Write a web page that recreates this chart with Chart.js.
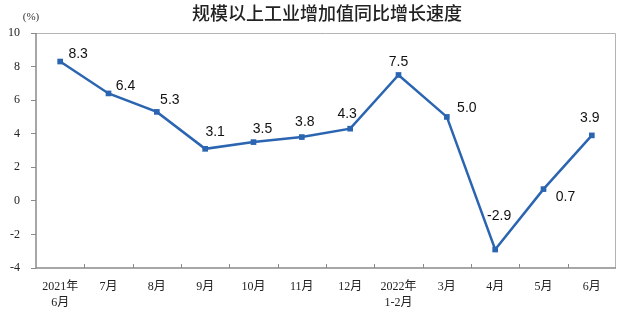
<!DOCTYPE html>
<html>
<head>
<meta charset="utf-8">
<script src="https://cdn.jsdelivr.net/npm/chart.js@4.4.0/dist/chart.umd.min.js"></script>
<style>
  html, body { margin: 0; padding: 0; background: #fff; }
  #wrap { width: 640px; height: 313px; }
</style>
</head>
<body>
<div id="wrap"><canvas id="c" width="640" height="313"></canvas></div>
<script>
// data
var categories = [["2021年", "6月"], "7月", "8月", "9月", "10月", "11月", "12月", ["2022年", "1-2月"], "3月", "4月", "5月", "6月"];
var growth = [8.3, 6.4, 5.3, 3.1, 3.5, 3.8, 4.3, 7.5, 5.0, -2.9, 0.7, 3.9];
var yTicks = [-4, -2, 0, 2, 4, 6, 8, 10];
var chartTitle = "规模以上工业增加值同比增长速度";

var lineBlue = "#2b65b1";
var serif = "'Liberation Serif', 'Noto Sans CJK SC', serif";

// frame round the plot, little inside ticks on the x axis, title and unit
var framePlugin = {
    id: "frame",
    beforeDatasetsDraw: function (chart) {
        var a = chart.chartArea, ctx = chart.ctx, x = chart.scales.x;
        ctx.save();
        ctx.lineWidth = 1;
        ctx.strokeStyle = "#b4b4b4";
        ctx.beginPath();
        ctx.moveTo(a.left, a.top + 0.5);
        ctx.lineTo(a.right - 0.5, a.top + 0.5);
        ctx.lineTo(a.right - 0.5, a.bottom);
        ctx.stroke();
        ctx.strokeStyle = "#8a8a8a";
        ctx.lineWidth = 1.5;
        ctx.beginPath();
        ctx.moveTo(a.left, a.top);
        ctx.lineTo(a.left, a.bottom);
        ctx.lineTo(a.right, a.bottom);
        ctx.stroke();
        ctx.lineWidth = 1;
        ctx.beginPath();
        for (var i = 1; i < categories.length; i++) {
            var px = Math.round(x.getPixelForValue(i - 0.5)) + 0.5;
            ctx.moveTo(px, a.bottom);
            ctx.lineTo(px, a.bottom - 4);
        }
        ctx.stroke();
        ctx.textAlign = "center";
        ctx.textBaseline = "middle";
        // title, sits a bit right of the canvas centre like the original
        ctx.fillStyle = "#222";
        ctx.font = "500 18px 'Noto Sans CJK SC', sans-serif";
        ctx.fillText(chartTitle, 327, 13);
        // unit label
        ctx.fillStyle = "#333";
        ctx.font = "11px " + serif;
        ctx.fillText("(%)", 31, 17);
        ctx.restore();
    }
};

// value labels next to each point
var labelPlugin = {
    id: "valueLabels",
    afterDatasetsDraw: function (chart) {
        var shift = [[18, -7], [17, -7], [13, -12], [10, -17], [9, -13], [3, -15], [-3, -15],
                     [0, -13], [20, -9], [4, -33], [22, 8], [-2, -17]];
        var ctx = chart.ctx;
        var meta = chart.getDatasetMeta(0);
        ctx.save();
        ctx.fillStyle = "#111";
        ctx.font = "14px 'Liberation Sans', Arial, sans-serif";
        ctx.textAlign = "center";
        ctx.textBaseline = "middle";
        meta.data.forEach(function (pt, i) {
            ctx.fillText(growth[i].toFixed(1), pt.x + shift[i][0], pt.y + shift[i][1]);
        });
        ctx.restore();
    }
};

new Chart(document.getElementById("c"), {
    type: "line",
    data: {
        labels: categories,
        datasets: [{
            data: growth,
            borderColor: lineBlue,
            backgroundColor: lineBlue,
            borderWidth: 2.5,
            pointStyle: "rect",
            pointRadius: 4,
            pointBorderWidth: 0,
            tension: 0
        }]
    },
    options: {
        responsive: false,
        devicePixelRatio: 1,
        animation: false,
        layout: { padding: { left: 0, right: 24, top: 33, bottom: 0 } },
        plugins: {
            legend: { display: false },
            tooltip: { enabled: false },
            title: { display: false }
        },
        scales: {
            x: {
                offset: true,
                grid: { display: false, drawTicks: false },
                border: { display: false },
                ticks: {
                    color: "#222",
                    padding: 11,
                    maxRotation: 0,
                    autoSkip: false,
                    font: { family: serif, size: 12, lineHeight: 1.3 }
                },
                afterFit: function (s) { s.height = 45; }
            },
            y: {
                min: -4,
                max: 10,
                afterBuildTicks: function (s) {
                    s.ticks = yTicks.map(function (v) { return { value: v }; });
                },
                grid: { drawOnChartArea: false, tickLength: 5, color: "#8a8a8a" },
                border: { display: false },
                ticks: {
                    color: "#222",
                    padding: 11,
                    font: { family: serif, size: 12 }
                },
                afterFit: function (s) { s.width = 36; }
            }
        }
    },
    plugins: [framePlugin, labelPlugin]
});
</script>
</body>
</html>
